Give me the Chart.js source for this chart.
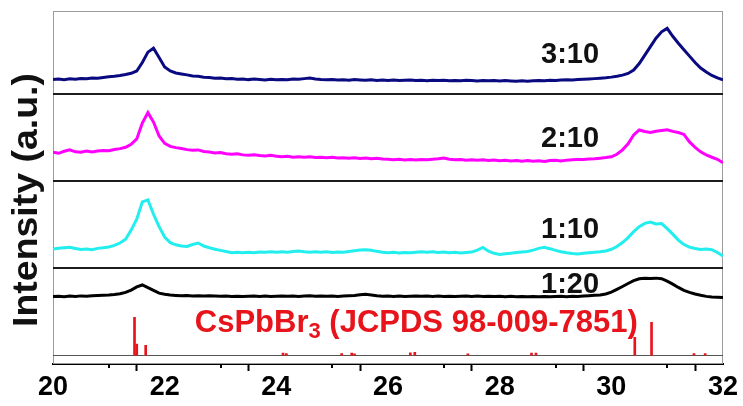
<!DOCTYPE html>
<html>
<head>
<meta charset="utf-8">
<script src="https://cdn.jsdelivr.net/npm/chart.js@4.4.1/dist/chart.umd.min.js"></script>
<style>
  html, body { margin: 0; padding: 0; background: #fff; }
</style>
</head>
<body>
<canvas id="xrdChart" width="743" height="406"></canvas>
<script>
// 2-theta grid (degrees)
const twoTheta = [
  20.0, 20.1, 20.2, 20.3, 20.4, 20.5, 20.6, 20.7, 20.8, 20.9,
  21.0, 21.1, 21.2, 21.3, 21.4, 21.5, 21.6, 21.7, 21.8, 21.9,
  22.0, 22.1, 22.2, 22.3, 22.4, 22.5, 22.6, 22.7, 22.8, 22.9,
  23.0, 23.1, 23.2, 23.3, 23.4, 23.5, 23.6, 23.7, 23.8, 23.9,
  24.0, 24.1, 24.2, 24.3, 24.4, 24.5, 24.6, 24.7, 24.8, 24.9,
  25.0, 25.1, 25.2, 25.3, 25.4, 25.5, 25.6, 25.7, 25.8, 25.9,
  26.0, 26.1, 26.2, 26.3, 26.4, 26.5, 26.6, 26.7, 26.8, 26.9,
  27.0, 27.1, 27.2, 27.3, 27.4, 27.5, 27.6, 27.7, 27.8, 27.9,
  28.0, 28.1, 28.2, 28.3, 28.4, 28.5, 28.6, 28.7, 28.8, 28.9,
  29.0, 29.1, 29.2, 29.3, 29.4, 29.5, 29.6, 29.7, 29.8, 29.9,
  30.0, 30.1, 30.2, 30.3, 30.4, 30.5, 30.6, 30.7, 30.8, 30.9,
  31.0, 31.1, 31.2, 31.3, 31.4, 31.5, 31.6, 31.7, 31.8, 31.9,
  32.0
];

// intensities (a.u.) for each sample, same grid as twoTheta
const ratio310 = [
  15, 15.5, 14.8, 15.6, 15.2, 16, 15.7, 16.4, 16.1, 17,
  17.6, 18.2, 19, 20, 21.2, 23.5, 32, 42.5, 46.5, 37,
  27.5, 23.5, 21.5, 20.5, 19.6, 18.4, 18.1, 17.2, 16.9, 16.2,
  16.4, 15.6, 15.9, 15.2, 15.5, 14.8, 15.3, 14.9, 14.5, 15.1,
  14.6, 15, 14.7, 15.4, 15.2, 15.8, 16.3, 15.4, 14.9, 14.6,
  14.9, 14.3, 14.7, 14.2, 14.8, 14.4, 14.1, 14.6, 14, 14.4,
  13.9, 14.3, 13.8, 14.2, 14.5, 13.9, 14.1, 13.7, 14.2, 13.8,
  14.1, 13.6, 14, 13.7, 14.2, 13.8, 13.5, 14, 13.6, 13.9,
  13.4, 13.8, 13.5, 13.1, 13.6, 13.2, 13.7, 13.9, 13.6, 14.1,
  14, 14.3, 14.6, 14.4, 14.9, 15.1, 15.4, 15.8, 16.2, 16.6,
  17.3, 18.2, 19.3, 21, 24.5, 31, 39.5, 48, 56.5, 63,
  66.5, 58.5, 51.5, 45, 38.5, 32, 26.5, 22.5, 19, 16.5,
  14.5
];
const ratio210 = [
  28.7, 27.5, 29.5, 31, 29, 28.6, 29.8, 28.9, 29.7, 30.4,
  30.1, 31.4, 32.2, 33.6, 36.5, 42, 58, 68.5, 59, 45,
  37.5, 34.5, 33.2, 32.3, 31.2, 30.6, 30.9, 29.4, 28.7, 27.9,
  28.3, 27.1, 26.6, 27, 25.9, 25.5, 26.1, 25.2, 24.8, 25.4,
  24.6, 23.9, 24.5, 23.6, 24.1, 23.4, 23.9, 23.2, 23.6, 22.9,
  23.4, 22.7, 23.1, 22.5, 22.9, 22.3, 22.7, 22.1, 22.5, 21.8,
  21.6, 21, 21.4, 20.8, 21.2, 20.7, 21.3, 20.9, 21.6, 22,
  22.8, 21.5, 20.9, 21.2, 20.6, 21, 20.4, 20.9, 20.3, 20.7,
  20.1, 20.5, 19.8, 20.3, 19.6, 20.1, 19.4, 19.9, 19.3, 20.2,
  20.4, 19.8, 20.6, 20.9, 21.2, 21.3, 21.7, 22, 22.6, 23.2,
  24, 26.5, 31, 37, 46, 51, 49.5, 48.6, 49.8, 50.5,
  51.3, 49.6, 48.4, 46.5, 39, 33.5, 29, 25.8, 23.5, 21.5,
  18
];
const ratio110 = [
  19, 19.8, 20.3, 20.7, 19.5, 18.4, 18.9, 18.3, 19.6, 20.2,
  21, 22.6, 25, 28.8, 38, 49, 66.5, 68.5, 54, 41.5,
  31, 25.4, 23.2, 22, 21.5, 23.5, 25, 22, 20.3, 18.8,
  17.6, 16.5, 15.3, 15.8, 15.1, 15.7, 15.2, 16, 15.6, 16.2,
  15.7, 16.3, 15.8, 16.4, 16.9, 16.2, 15.8, 16.3, 15.6, 16.1,
  15.5, 16, 15.7, 16.4, 17.2, 17.9, 18.3, 17.8, 16.6, 15.8,
  15.2, 15.6, 15, 15.5, 15.1, 15.8, 16.2, 15.6, 16.1, 15.4,
  15.9, 15.3, 15.6, 15, 15.4, 15.9, 17.8, 20.5, 16.8, 14.6,
  13.5, 14.2, 14.8, 15.4, 15.9, 16.5, 17.8, 19.6, 20.6, 19.3,
  17.6, 16.2, 15.1, 14.4, 14, 14.6, 15.2, 15.6, 16.1, 17,
  18.7, 21.5, 25.5, 30.5, 36.5, 41.5, 44.8, 46.2, 44.3, 44.6,
  39.5, 34, 28, 23.5, 20.8, 19.5, 18.6, 18.9, 18.2, 15.5,
  12
];
const ratio120 = [
  7, 7.4, 6.8, 7.5, 7.2, 7.7, 7.4, 7.9, 8.1, 8.4,
  8.6, 9.1, 9.8, 11.2, 13.5, 16.8, 18.7, 16, 13.2, 10.5,
  9.4, 8.7, 8.2, 7.8, 8, 7.6, 7.9, 7.5, 7.8, 7.6,
  7.3, 7.6, 7.1, 7.4, 7, 7.3, 7.6, 7.2, 7.5, 7.1,
  7.4, 7.7, 7.3, 7.6, 7.2, 7.5, 7.8, 7.4, 7.7, 7.3,
  7.6, 7.2, 7.5, 7.8, 8.1, 8.8, 9.3, 8.6, 7.8, 7.4,
  7.6, 7.2, 7.5, 7.1, 7.4, 7.7, 7.3, 7.6, 7.2, 7.5,
  7.1, 7.4, 7, 7.3, 7.6, 7.2, 7.5, 7.1, 7.4, 7,
  7.3, 6.9, 7.2, 6.8, 7.1, 6.7, 7, 6.8, 7.1, 6.7,
  7, 7.2, 6.9, 7.3, 7.1, 7.6, 7.9, 8.3, 8.7, 9.6,
  11.5, 14.3, 17.2, 20.2, 23, 25, 25.5, 25.3, 25.6, 25,
  22.5, 19.5, 16.2, 13.3, 11.2, 9.6, 8.3, 7.2, 6.6, 6.4,
  6
];

// CsPbBr3 reference pattern (JCPDS 98-009-7851), relative intensity
const refPos = [21.46, 21.5, 21.66, 24.12, 24.18, 25.17, 25.35, 25.4, 26.4, 26.48, 27.43, 28.57, 28.65, 30.42, 30.72, 31.48, 31.68];
const refInt = [100, 29, 26, 5, 4, 4, 5, 3, 6, 7, 3, 5, 5, 47, 87, 4, 4];

const sampleNames = ['3:10', '2:10', '1:10', '1:20'];
const xTicks = [20, 22, 24, 26, 28, 30, 32];

const FONT = '"Liberation Sans", Arial, sans-serif';

function toPoints(ys) {
    return twoTheta.map((x, i) => ({ x: x, y: ys[i] }));
}

// panel axes stacked on the left, no visible ticks
function panelAxis(weight, min, max) {
    return {
        type: 'linear',
        position: 'left',
        stack: 'xrd',
        stackWeight: weight,
        min: min,
        max: max,
        ticks: { display: false },
        grid: { display: false, drawTicks: false },
        border: { display: false }
    };
}

const panelDecor = {
    id: 'panelDecor',
    beforeDatasetsDraw(chart) {
        const { ctx, chartArea: a, scales } = chart;
        ctx.save();
        // frame
        ctx.strokeStyle = '#9c9c9c';
        ctx.lineWidth = 1;
        ctx.strokeRect(a.left + 0.5, a.top + 0.5, a.right - a.left - 1, a.bottom - a.top - 1);
        // panel dividers
        ctx.strokeStyle = '#1c1c1c';
        ctx.lineWidth = 2;
        ['y2', 'y3', 'y4'].forEach(id => {
            const y = Math.round(scales[id].top);
            ctx.beginPath();
            ctx.moveTo(a.left, y);
            ctx.lineTo(a.right, y);
            ctx.stroke();
        });
        // baseline of the reference sticks
        const yb = Math.round(scales.y5.getPixelForValue(0)) + 0.5;
        ctx.strokeStyle = '#555';
        ctx.lineWidth = 1;
        ctx.beginPath();
        ctx.moveTo(a.left, yb);
        ctx.lineTo(a.right, yb);
        ctx.stroke();
        // minor ticks on odd degrees
        ctx.strokeStyle = '#000';
        ctx.lineWidth = 2;
        for (let v = 21; v < 32; v += 2) {
            const x = Math.round(scales.x.getPixelForValue(v));
            ctx.beginPath();
            ctx.moveTo(x, a.bottom);
            ctx.lineTo(x, a.bottom + 4);
            ctx.stroke();
        }
        ctx.restore();
    },
    afterDatasetsDraw(chart) {
        const { ctx, scales } = chart;
        ctx.save();
        // sample labels
        ctx.fillStyle = '#111';
        ctx.font = 'bold 29px ' + FONT;
        ctx.textAlign = 'right';
        ctx.textBaseline = 'middle';
        const lx = scales.x.getPixelForValue(29.78);
        const spots = [['y1', 40], ['y2', 42], ['y3', 38], ['y4', 19]];
        sampleNames.forEach((name, i) => {
            const [id, v] = spots[i];
            ctx.fillText(name, lx, scales[id].getPixelForValue(v));
        });
        // reference label with subscript
        ctx.fillStyle = '#e8141c';
        ctx.textAlign = 'left';
        ctx.textBaseline = 'alphabetic';
        let x = scales.x.getPixelForValue(22.54);
        const yb = scales.y5.getPixelForValue(60.5);
        ctx.font = 'bold 31px ' + FONT;
        ctx.fillText('CsPbBr', x, yb);
        x += ctx.measureText('CsPbBr').width;
        ctx.font = 'bold 22px ' + FONT;
        ctx.fillText('3', x, yb + 6);
        x += ctx.measureText('3').width;
        ctx.font = 'bold 31px ' + FONT;
        ctx.fillText(' (JCPDS 98-009-7851)', x, yb);
        // y title
        ctx.fillStyle = '#111';
        ctx.font = 'bold 35px ' + FONT;
        ctx.textAlign = 'center';
        ctx.translate(37, 200);
        ctx.rotate(-Math.PI / 2);
        ctx.scale(1.07, 1);
        ctx.fillText('Intensity (a.u.)', 0, 0);
        ctx.restore();
    }
};

const lineStyle = { borderWidth: 3, pointRadius: 0, fill: false, tension: 0 };

new Chart(document.getElementById('xrdChart'), {
    type: 'line',
    data: {
        datasets: [
            { ...lineStyle, label: sampleNames[0], data: toPoints(ratio310), borderColor: '#0a0a80', yAxisID: 'y1' },
            { ...lineStyle, label: sampleNames[1], data: toPoints(ratio210), borderColor: '#ff00ff', yAxisID: 'y2' },
            { ...lineStyle, label: sampleNames[2], data: toPoints(ratio110), borderColor: '#22eeee', yAxisID: 'y3' },
            { ...lineStyle, label: sampleNames[3], data: toPoints(ratio120), borderColor: '#000000', yAxisID: 'y4' },
            {
                type: 'bar',
                label: 'CsPbBr3',
                data: refPos.map((x, i) => ({ x: x, y: refInt[i] })),
                backgroundColor: '#e8141c',
                barThickness: 2,
                yAxisID: 'y5'
            }
        ]
    },
    options: {
        responsive: false,
        animation: false,
        layout: { padding: { left: 53, right: 20, top: 11, bottom: 2 } },
        plugins: {
            legend: { display: false },
            tooltip: { enabled: false }
        },
        scales: {
            x: {
                type: 'linear',
                min: 20,
                max: 32,
                offset: false,
                afterBuildTicks: scale => {
                    const t = [];
                    for (let v = 20; v <= 32; v++) t.push({ value: v });
                    scale.ticks = t;
                },
                ticks: {
                    autoSkip: false,
                    maxRotation: 0,
                    padding: 3,
                    color: '#000',
                    font: { family: FONT, size: 27, weight: 'bold', lineHeight: 1 },
                    callback: v => xTicks.includes(v) ? String(v) : ''
                },
                grid: {
                    display: true,
                    drawOnChartArea: false,
                    drawTicks: true,
                    tickLength: 7,
                    tickWidth: 2,
                    tickColor: c => (c.tick && xTicks.includes(c.tick.value)) ? '#000' : 'rgba(0,0,0,0)'
                },
                border: { display: true, color: '#000', width: 2 }
            },
            // stacked panels are placed bottom-up in definition order
            y5: panelAxis(61, -23.7, 136.8),
            y4: panelAxis(36, 0, 36),
            y3: panelAxis(88, 0, 88),
            y2: panelAxis(87, 0, 87),
            y1: panelAxis(84, 0, 84)
        }
    },
    plugins: [panelDecor]
});
</script>
</body>
</html>
